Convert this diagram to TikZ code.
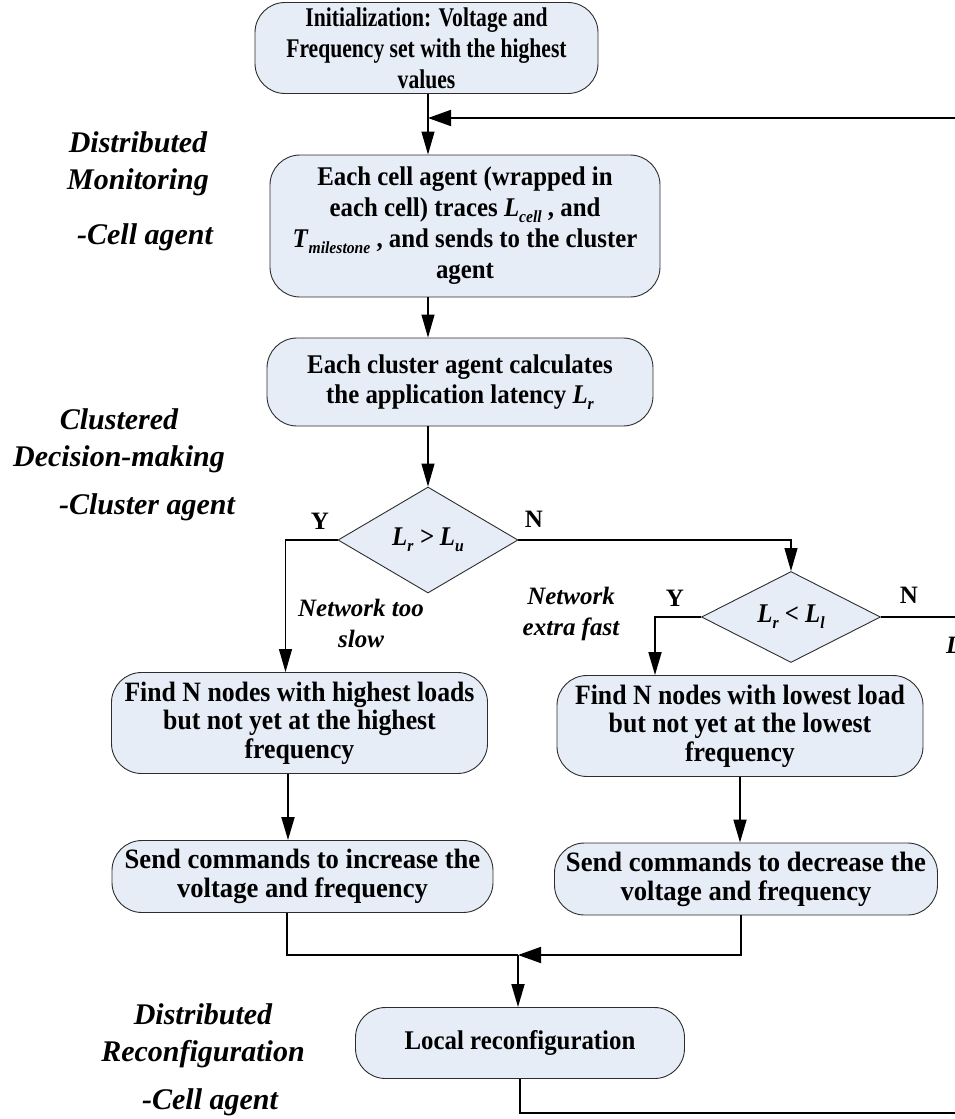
\documentclass[tikz,border=0pt]{standalone}
\usepackage{fontspec}
\setmainfont{Liberation Serif}
\newfontfamily\condfont{Liberation Serif}[FakeStretch=0.80]
\newfontfamily\midfont{Liberation Serif}[FakeStretch=0.92]
\newfontfamily\widefont{Liberation Serif}[FakeStretch=0.95]
\usetikzlibrary{arrows.meta,shapes.geometric}
\definecolor{boxfill}{RGB}{230,237,247}
\definecolor{boxline}{RGB}{45,45,45}
% italic subscript at a size that follows the box text
\newcommand{\subx}[1]{\raisebox{-0.22em}{\fontsize{17}{17}\selectfont\itshape #1}}
\newcommand{\var}[2]{\textit{#1}\subx{#2}}
\begin{document}
\begin{tikzpicture}[x=1pt,y=-1pt,
  proc/.style={draw=boxline, line width=0.9pt, fill=boxfill, rounded corners=30pt,
    align=center, inner sep=0pt},
  condtext/.style={font=\condfont\fontsize{27}{31}\selectfont\bfseries},
  tracetext/.style={font=\midfont\fontsize{27}{31}\selectfont\bfseries},
  midtext/.style={font=\midfont\fontsize{27}{29.5}\selectfont\bfseries},
  findtext/.style={font=\midfont\fontsize{28}{28.5}\selectfont\bfseries},
  sendtext/.style={font=\widefont\fontsize{28}{29}\selectfont\bfseries},
  dec/.style={draw=boxline, line width=0.9pt, fill=boxfill, diamond, inner sep=0pt,
    font=\midfont\fontsize{27}{29}\selectfont\bfseries\itshape},
  phase/.style={align=center, inner sep=0pt, font=\fontsize{30}{37}\selectfont\bfseries\itshape},
  note/.style={align=center, inner sep=0pt, font=\fontsize{25}{31}\selectfont\bfseries\itshape},
  yn/.style={inner sep=0pt, font=\fontsize{25}{29}\selectfont\bfseries},
  thin/.style={line width=1.1pt, draw=black},
  thick/.style={line width=1.8pt, draw=black},
  tip/.style={-{Triangle[length=23pt,width=13pt]}},
  bigtip/.style={-{Triangle[length=23pt,width=16pt]}}
]
\useasboundingbox (0,0) rectangle (955,1119);

% process boxes
\node[proc, condtext, minimum width=343pt, minimum height=91pt] (init) at (426.5,48)
  {Initialization: Voltage and\\Frequency set with the highest\\values};
\node[proc, tracetext, minimum width=390pt, minimum height=142pt] (trace) at (465,226)
  {Each cell agent (wrapped in\\each cell) traces \var{L}{cell} , and\\\var{T}{milestone} , and sends to the cluster\\agent};
\node[proc, midtext, minimum width=386pt, minimum height=88pt] (calc) at (460,382)
  {Each cluster agent calculates\\the application latency \var{L}{r}};

% decisions
\node[dec, minimum width=180pt, minimum height=106pt] (upper) at (428,540)
  {\var{L}{r} > \var{L}{u}};
\node[dec, minimum width=179pt, minimum height=90pt] (lower) at (791,617)
  {\var{L}{r} < \var{L}{l}};

% actions
\node[proc, findtext, minimum width=376pt, minimum height=101pt] (findhi) at (299.5,723)
  {Find N nodes with highest loads\\but not yet at the highest\\frequency};
\node[proc, findtext, minimum width=366pt, minimum height=101pt] (findlo) at (740,726)
  {Find N nodes with lowest load\\but not yet at the lowest\\frequency};
\node[proc, sendtext, minimum width=381pt, minimum height=72pt] (sendup) at (302.5,876.5)
  {Send commands to increase the\\voltage and frequency};
\node[proc, sendtext, minimum width=383pt, minimum height=72pt] (senddn) at (746,879)
  {Send commands to decrease the\\voltage and frequency};
\node[proc, midtext, minimum width=329pt, minimum height=71pt] (local) at (520,1043)
  {Local reconfiguration};

% phase labels
\node[phase] (p1a) at (138,164) {Distributed\\Monitoring};
\node[phase] (p1b) at (145,237) {-Cell agent};
\node[phase] (p2a) at (119,441) {Clustered\\Decision-making};
\node[phase] (p2b) at (147,507) {-Cluster agent};
\node[phase] (p3a) at (203,1036) {Distributed\\Reconfiguration};
\node[phase] (p3b) at (210,1102) {-Cell agent};

% branch labels
\node[yn] (y1) at (320,521) {Y};
\node[yn] (n1) at (534,519) {N};
\node[yn] (y2) at (675,598) {Y};
\node[yn] (n2) at (909,595) {N};
\node[note] (slow) at (361,623) {Network too\\slow};
\node[note] (fast) at (571,614) {Network\\extra fast};
\node[note, anchor=west] (cut) at (946,645) {L};

% routing points
\coordinate (spine) at (428,0);
\coordinate (loopin) at (428,118);
\coordinate (edgetop) at (955,118);
\coordinate (edgebot) at (955,1113);
\coordinate (merge) at (518,955);
\coordinate (hiin) at ([xshift=-14pt]findhi.north);
\coordinate (loin) at ([xshift=-85pt]findlo.north);
\coordinate (hiout) at ([xshift=-11.5pt]findhi.south);
\coordinate (upout) at ([xshift=-15.5pt]sendup.south);
\coordinate (dnout) at ([xshift=-5pt]senddn.south);

% connectors
\draw[thin, tip] (spine |- init.south) -- (spine |- trace.north);
\draw[thick, bigtip] (edgetop) -- (loopin);
\draw[thin, tip] (spine |- trace.south) -- (spine |- calc.north);
\draw[thin, tip] (spine |- calc.south) -- (upper.north);
\draw[thin, tip] (upper.west) -| (hiin);
\draw[thin, tip] (upper.east) -| (lower.north);
\draw[thick, tip] (lower.west) -| (loin);
\draw[thick] (lower.east) -- (lower.east -| edgetop);
\draw[thick, tip] (hiout) -- (hiout |- sendup.north);
\draw[thick, tip] (findlo.south) -- (findlo.south |- senddn.north);
\draw[thick] (upout) |- (merge);
\draw[thick, bigtip] (dnout) |- (merge);
\draw[thick, tip] (merge) -- (merge |- local.north);
\draw[thick] (local.south) |- (edgebot);
\end{tikzpicture}
\end{document}
